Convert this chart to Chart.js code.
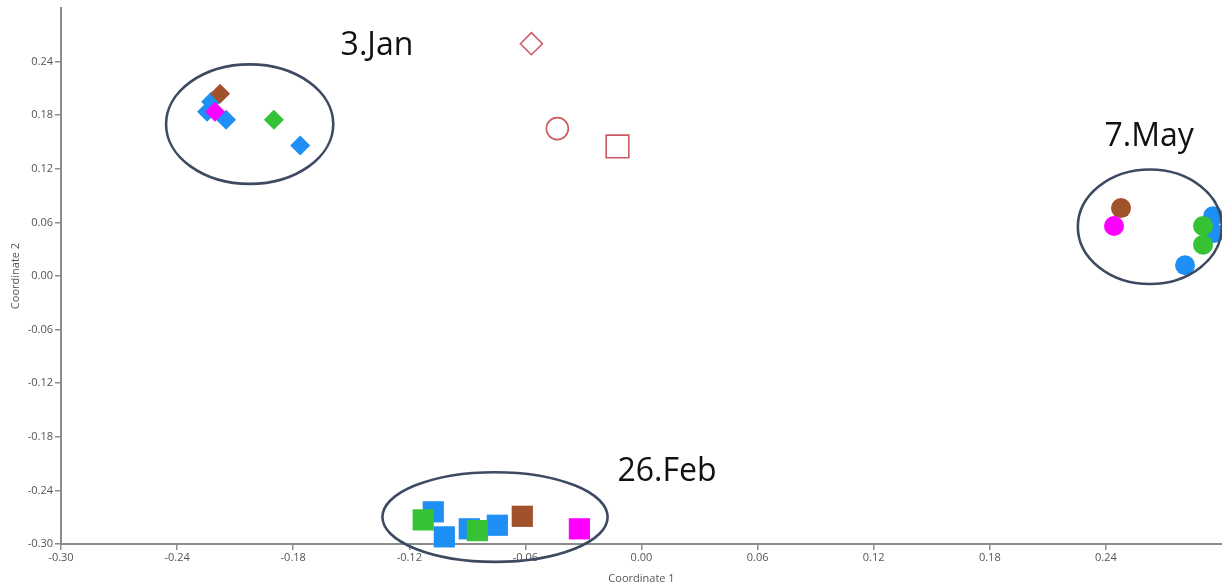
<!DOCTYPE html>
<html>
<head>
<meta charset="utf-8">
<script src="https://cdn.jsdelivr.net/npm/chart.js@4/dist/chart.umd.min.js"></script>
<style>
  html, body { margin: 0; padding: 0; background: #fff; }
  #wrap { width: 1222px; height: 588px; }
</style>
</head>
<body>
<div id="wrap"><canvas id="pcoa" width="1222" height="588"></canvas></div>
<script>
/* sampling dates, one marker shape each */
const dates = ['3.Jan', '26.Feb', '7.May'];

/* coordinates per group and date: [coord 1, coord 2] */
const janBlue    = [[-0.2224, 0.195], [-0.2245, 0.184], [-0.2147, 0.175], [-0.1764, 0.146]];
const janGreen   = [[-0.190, 0.175]];
const janBrown   = [[-0.2178, 0.204]];
const janMagenta = [[-0.2204, 0.184]];

const febBlue    = [[-0.1076, -0.264], [-0.1019, -0.292], [-0.089, -0.283], [-0.0745, -0.279]];
const febGreen   = [[-0.1128, -0.273], [-0.0848, -0.285]];
const febBrown   = [[-0.0616, -0.269]];
const febMagenta = [[-0.0321, -0.283]];

const mayBlue    = [[0.2954, 0.067], [0.2959, 0.048], [0.2809, 0.012]];
const mayGreen   = [[0.2902, 0.056], [0.2902, 0.035]];
const mayBrown   = [[0.2478, 0.076]];
const mayMagenta = [[0.2442, 0.056]];

/* open reference markers (Jan, May, Feb shapes) */
const refPoints = [[-0.0569, 0.260], [-0.0435, 0.165], [-0.0124, 0.145]];

/* tick labels on both axes */
const xTicks = [-0.30, -0.24, -0.18, -0.12, -0.06, 0.00, 0.06, 0.12, 0.18, 0.24];
const yTicks = [-0.30, -0.24, -0.18, -0.12, -0.06, 0.00, 0.06, 0.12, 0.18, 0.24];

/* cluster rings: centre x, centre y, radius x, radius y (data units) */
const ringCx = [-0.2025, 0.2627, -0.0757];
const ringCy = [0.170, 0.0552, -0.2698];
const ringRx = [0.0432, 0.0372, 0.0582];
const ringRy = [0.0669, 0.0641, 0.0502];

/* date captions anchored in data units (left edge, baseline), same order as dates */
const captionX = [-0.1555, -0.0124, 0.2393];
const captionY = [0.247, -0.230, 0.146];

const BLUE    = '#1e8ff5';
const GREEN   = '#35c235';
const BROWN   = '#a0522d';
const MAGENTA = '#ff00ff';
const REF     = '#cc5a64';
const RING    = '#3d4a62';
const AXIS    = '#8c8c8c';

const shapeFor = { '3.Jan': 'rectRot', '26.Feb': 'rect', '7.May': 'circle' };
const radiusFor = { '3.Jan': 10, '26.Feb': 15, '7.May': 10 };

const toXY = pts => pts.map(p => ({ x: p[0], y: p[1] }));

function groupSets(color, jan, feb, may) {
  return [[jan, '3.Jan'], [feb, '26.Feb'], [may, '7.May']].map(([pts, d]) => ({
    label: d,
    data: toXY(pts),
    pointStyle: shapeFor[d],
    pointRadius: radiusFor[d],
    pointHoverRadius: radiusFor[d],
    backgroundColor: color,
    borderColor: color,
    borderWidth: 0,
    clip: false,
  }));
}

// first dataset is drawn on top
const datasets = [
  ...groupSets(MAGENTA, janMagenta, febMagenta, mayMagenta),
  ...groupSets(BROWN, janBrown, febBrown, mayBrown),
  ...groupSets(GREEN, janGreen, febGreen, mayGreen),
  ...groupSets(BLUE, janBlue, febBlue, mayBlue),
  {
    label: 'reference',
    data: toXY(refPoints),
    pointStyle: ['rectRot', 'circle', 'rect'],
    pointRadius: [11, 11, 16],
    backgroundColor: 'rgba(0,0,0,0)',
    borderColor: REF,
    borderWidth: 1.6,
    clip: false,
  },
];

/* rings and date captions on top of the points */
const clusterNotes = {
  id: 'clusterNotes',
  afterDatasetsDraw(chart) {
    const { ctx, scales: { x, y } } = chart;
    ctx.save();
    ctx.strokeStyle = RING;
    ctx.lineWidth = 2.6;
    ringCx.forEach((cx, i) => {
      const px = x.getPixelForValue(cx);
      const py = y.getPixelForValue(ringCy[i]);
      const rx = Math.abs(x.getPixelForValue(cx + ringRx[i]) - px);
      const ry = Math.abs(y.getPixelForValue(ringCy[i] + ringRy[i]) - py);
      ctx.beginPath();
      ctx.ellipse(px, py, rx, ry, 0, 0, Math.PI * 2);
      ctx.stroke();
    });
    ctx.fillStyle = '#111';
    ctx.font = '32px "Open Sans"';
    ctx.textAlign = 'left';
    ctx.textBaseline = 'alphabetic';
    dates.forEach((d, i) => {
      ctx.fillText(d, x.getPixelForValue(captionX[i]), y.getPixelForValue(captionY[i]));
    });
    ctx.restore();
  }
};

// no label overhang: the plot runs right up to the canvas edge
function noOverhang(s) {
  s.paddingLeft = 0;
  s.paddingRight = 0;
  s.paddingTop = 0;
  s.paddingBottom = 0;
}

const tickFont = { family: '"Open Sans"', size: 11 };

new Chart(document.getElementById('pcoa'), {
  type: 'scatter',
  data: { datasets },
  options: {
    responsive: false,
    animation: false,
    devicePixelRatio: 1,
    layout: { autoPadding: false, padding: { top: 8, left: 0, right: 0, bottom: 0 } },
    plugins: { legend: { display: false }, tooltip: { enabled: false } },
    scales: {
      x: {
        type: 'linear',
        min: -0.30, max: 0.30,
        afterBuildTicks: s => { s.ticks = xTicks.map(v => ({ value: v })); },
        afterFit: s => { s.height = 44; noOverhang(s); },
        ticks: {
          font: tickFont, color: '#555', padding: 1,
          autoSkip: false, maxRotation: 0,
          callback: v => v.toFixed(2),
        },
        grid: { drawOnChartArea: false, drawTicks: true, tickLength: 6, color: AXIS, lineWidth: 1.5 },
        border: { display: true, color: AXIS, width: 2 },
        title: { display: true, text: 'Coordinate 1', font: tickFont, color: '#555', padding: { top: 0, bottom: 3 } },
      },
      y: {
        type: 'linear',
        min: -0.30, max: 0.30,
        afterBuildTicks: s => { s.ticks = yTicks.map(v => ({ value: v })); },
        afterFit: s => { s.width = 61; noOverhang(s); },
        ticks: {
          font: tickFont, color: '#555', padding: 2,
          autoSkip: false,
          callback: v => v.toFixed(2),
        },
        grid: { drawOnChartArea: false, drawTicks: true, tickLength: 6, color: AXIS, lineWidth: 1.5 },
        border: { display: true, color: AXIS, width: 2 },
        title: { display: true, text: 'Coordinate 2', font: tickFont, color: '#555', padding: { top: 9, bottom: 0 } },
      },
    },
  },
  plugins: [clusterNotes],
});
</script>
</body>
</html>
